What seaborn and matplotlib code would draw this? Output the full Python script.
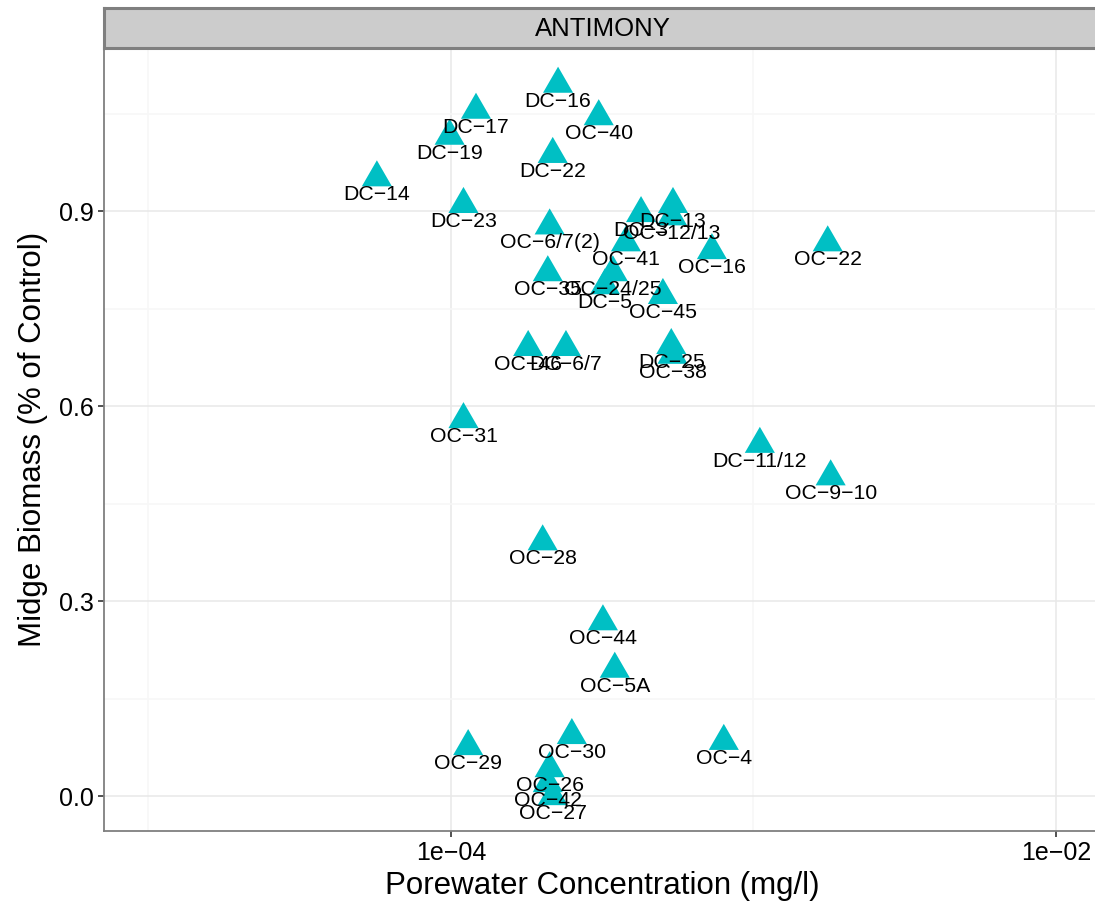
import matplotlib
matplotlib.use("Agg")
import matplotlib.pyplot as plt
import matplotlib.ticker as mticker
import pandas as pd
import seaborn as sns

# station labels, porewater Sb concentration (mg/l), midge biomass (fraction of control)
stations = ["DC-16", "OC-40", "DC-17", "DC-19", "DC-22", "DC-14", "DC-23", "OC-6/7(2)",
            "DC-3", "DC-13", "OC-12/13", "OC-41", "OC-16", "OC-22", "OC-35", "OC-24/25",
            "DC-5", "OC-45", "OC-46", "DC-6/7", "DC-25", "OC-38", "OC-31", "DC-11/12",
            "OC-9-10", "OC-28", "OC-44", "OC-5A", "OC-29", "OC-30", "OC-4", "OC-26",
            "OC-42", "OC-27"]
porewater = [2.26e-4, 3.08e-4, 1.21e-4, 0.99e-4, 2.17e-4, 5.69e-5, 1.10e-4, 2.12e-4,
             4.25e-4, 5.42e-4, 5.38e-4, 3.79e-4, 7.29e-4, 1.76e-3, 2.09e-4, 3.43e-4,
             3.23e-4, 5.02e-4, 1.80e-4, 2.40e-4, 5.35e-4, 5.40e-4, 1.10e-4, 1.05e-3,
             1.80e-3, 2.01e-4, 3.18e-4, 3.48e-4, 1.14e-4, 2.51e-4, 7.98e-4, 2.12e-4,
             2.09e-4, 2.17e-4]
biomass = [1.102, 1.052, 1.062, 1.022, 0.994, 0.958, 0.917, 0.884,
           0.903, 0.917, 0.898, 0.858, 0.846, 0.858, 0.812, 0.812,
           0.792, 0.777, 0.697, 0.697, 0.700, 0.685, 0.586, 0.548,
           0.498, 0.398, 0.275, 0.202, 0.083, 0.100, 0.091, 0.049,
           0.026, 0.006]

x_major = [1e-4, 1e-2]
x_major_labels = ["1e\u221204", "1e\u221202"]
x_minor = [1e-5, 1e-3, 1e-1]
y_major = [0.0, 0.3, 0.6, 0.9]
y_major_labels = ["0.0", "0.3", "0.6", "0.9"]
y_minor = [0.15, 0.45, 0.75, 1.05]

df = pd.DataFrame({"Station": stations, "Porewater": porewater, "Biomass": biomass})

sns.set_theme(style="white")
plt.rcParams["font.family"] = ["Liberation Sans", "DejaVu Sans"]

fig = plt.figure(figsize=(10.95, 9.14), dpi=100)
ax = fig.add_axes([104 / 1095, 1 - 831 / 914, 997 / 1095, 783 / 914])

tri = [(-1, -0.866), (1, -0.866), (0, 0.866)]
sns.scatterplot(data=df, x="Porewater", y="Biomass", marker=tri, s=470,
                color="#00BFC4", edgecolor="none", linewidth=0, ax=ax, zorder=3)

for st, xv, yv in zip(df["Station"], df["Porewater"], df["Biomass"]):
    ax.annotate(st.replace("-", "\u2212"), (xv, yv), xytext=(0, -15.5),
                textcoords="offset points", ha="center", va="center",
                fontsize=15.3, color="black", zorder=4)

ax.set_xscale("log")
ax.set_xlim(10 ** -5.147, 10 ** -1.851)
ax.set_ylim(-0.0538, 1.1508)
ax.xaxis.set_major_locator(mticker.FixedLocator(x_major))
ax.xaxis.set_major_formatter(mticker.FixedFormatter(x_major_labels))
ax.xaxis.set_minor_locator(mticker.FixedLocator(x_minor))
ax.xaxis.set_minor_formatter(mticker.NullFormatter())
ax.yaxis.set_major_locator(mticker.FixedLocator(y_major))
ax.yaxis.set_major_formatter(mticker.FixedFormatter(y_major_labels))
ax.yaxis.set_minor_locator(mticker.FixedLocator(y_minor))

ax.grid(which="major", color="#E8E8E8", linewidth=1.1)
ax.grid(which="minor", color="#F7F7F7", linewidth=1.1)
ax.set_axisbelow(True)

ax.tick_params(which="major", direction="out", length=4.5, width=1.2, color="#333333",
               labelsize=18, labelcolor="black", pad=3, bottom=True, left=True)
ax.tick_params(which="minor", length=0)
for sp in ax.spines.values():
    sp.set_color("#7F7F7F")
    sp.set_linewidth(1.3)

ax.set_xlabel("Porewater Concentration (mg/l)", fontsize=22.5, labelpad=4, color="black")
ax.set_ylabel("Midge Biomass (% of Control)", fontsize=22.5, labelpad=8, color="black")

# facet strip
sax = fig.add_axes([104 / 1095, 1 - 48 / 914, 997 / 1095, 40 / 914])
sax.set_facecolor("#CCCCCC")
sax.set_xticks([])
sax.set_yticks([])
for sp in sax.spines.values():
    sp.set_color("#7F7F7F")
    sp.set_linewidth(2.2)
sax.text(0.5, 0.48, "ANTIMONY", ha="center", va="center", fontsize=18.5,
         color="black", transform=sax.transAxes)

fig.savefig("out.png", dpi=100)
